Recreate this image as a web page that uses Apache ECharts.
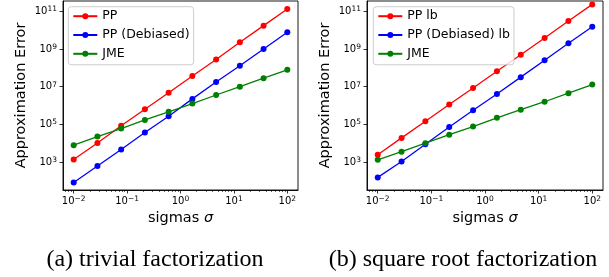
<!DOCTYPE html>
<html>
<head>
<meta charset="utf-8">
<script src="https://cdn.jsdelivr.net/npm/echarts@6/dist/echarts.min.js"></script>
<style>
  html, body { margin: 0; padding: 0; background: #fff; }
  #chart { width: 609px; height: 277px; }
</style>
</head>
<body>
<div id="chart"></div>
<script>
// sigma values (logspace -2..2, 10 points)
const sigmas = [0.01, 0.02783, 0.07743, 0.2154, 0.5995, 1.668, 4.642, 12.92, 35.94, 100];

// (a) trivial factorization
const ppA = [1.35e3, 1.02e4, 8.3e4, 6.3e5, 4.7e6, 3.7e7, 2.8e8, 2.3e9, 1.74e10, 1.32e11];
const ppDebA = [81, 603, 4.57e3, 3.63e4, 2.69e5, 2.24e6, 1.78e7, 1.29e8, 1.0e9, 7.8e9];
const jmeA = [7.8e3, 2.24e4, 5.9e4, 1.7e5, 4.6e5, 1.26e6, 3.6e6, 1.0e7, 2.8e7, 7.8e7];

// (b) square root factorization
const ppB = [2.4e3, 1.9e4, 1.45e5, 1.12e6, 8.5e6, 6.6e7, 5.0e8, 3.8e9, 3.1e10, 2.34e11];
const ppDebB = [151, 1.05e3, 8.7e3, 7.2e4, 5.6e5, 4.1e6, 3.2e7, 2.5e8, 2.0e9, 1.51e10];
const jmeB = [1.29e3, 3.5e3, 1.0e4, 2.8e4, 7.6e4, 2.2e5, 6.0e5, 1.58e6, 4.5e6, 1.29e7];

// tick exponents
const xTickExps = [-2, -1, 0, 1, 2];
const yTickExps = [3, 5, 7, 9, 11];

const namesA = ["PP", "PP (Debiased)", "JME"];
const namesB = ["PP lb", "PP (Debiased) lb", "JME"];
const captions = ["(a) trivial factorization", "(b) square root factorization"];

const colors = ["#ff0000", "#0000ff", "#008000"];
const X_MIN = -2.2, X_MAX = 2.2;
const Y_MIN = 1.51, Y_MAX = 11.55;
const FONT = "DejaVu Sans";

// log-spaced minor tick positions (2..9 x 10^d) inside the x range
const xMinor = [];
for (let d = -3; d <= 2; d++) {
    for (let k = 2; k <= 9; k++) {
        const e = Math.log10(k * Math.pow(10, d));
        if (e > X_MIN && e < X_MAX) xMinor.push(e);
    }
}

function powLabel(v) {
    const s = String(v).replace("-", "\u2212");
    return "{b|10}{s|" + s + "}";
}
const powRich = {
    b: { fontSize: 10, fontFamily: FONT, color: "#000", lineHeight: 12 },
    s: { fontSize: 7.5, fontFamily: FONT, color: "#000", lineHeight: 7.5, verticalAlign: "top" },
};

function toXY(ys) {
    return sigmas.map((s, i) => [Math.log10(s), Math.log10(ys[i])]);
}

const grids = [
    { left: 63, top: 1, width: 235, height: 189 },
    { left: 367, top: 1, width: 236, height: 189 },
];

const xAxes = [];
const yAxes = [];
grids.forEach((g, gi) => {
    // major x axis
    xAxes.push({
        type: "value", gridIndex: gi, min: X_MIN, max: X_MAX,
        name: "{n|sigmas }{i|\u03c3}", nameLocation: "middle", nameGap: 21,
        nameTextStyle: {
            rich: {
                n: { fontSize: 14.5, fontFamily: FONT, color: "#000" },
                i: { fontSize: 14.5, fontFamily: FONT, fontStyle: "italic", color: "#000" },
            },
        },
        axisLine: { show: true, onZero: false, lineStyle: { color: "#000", width: 0.9 } },
        axisTick: { show: true, customValues: xTickExps, length: 3.5, lineStyle: { color: "#000", width: 0.8 } },
        axisLabel: { customValues: xTickExps, formatter: powLabel, rich: powRich, margin: 5 },
        splitLine: { show: false },
    });
    // minor x ticks
    xAxes.push({
        type: "value", gridIndex: gi, min: X_MIN, max: X_MAX, position: "bottom",
        axisLine: { show: false },
        axisTick: { show: true, customValues: xMinor, length: 2, lineStyle: { color: "#000", width: 0.6 } },
        axisLabel: { show: false },
        splitLine: { show: false },
    });
    yAxes.push({
        type: "value", gridIndex: gi, min: Y_MIN, max: Y_MAX,
        name: "Approximation Error", nameLocation: "middle", nameGap: 34,
        nameTextStyle: { fontSize: 14.5, fontFamily: FONT, color: "#000" },
        axisLine: { show: true, onZero: false, lineStyle: { color: "#000", width: 0.9 } },
        axisTick: { show: true, customValues: yTickExps, length: 3.5, lineStyle: { color: "#000", width: 0.8 } },
        axisLabel: { customValues: yTickExps, formatter: powLabel, rich: powRich, margin: 6 },
        splitLine: { show: false },
    });
});

function makeSeries(name, ys, ci, gi) {
    return {
        name: name, type: "line", data: toXY(ys),
        xAxisIndex: gi * 2, yAxisIndex: gi,
        symbol: "circle", symbolSize: 6, showSymbol: true,
        itemStyle: { color: colors[ci] },
        lineStyle: { color: colors[ci], width: 1.3 },
        emphasis: { disabled: true },
    };
}

const series = [
    makeSeries(namesA[0], ppA, 0, 0),
    makeSeries(namesA[1], ppDebA, 1, 0),
    makeSeries(namesA[2], jmeA, 2, 0),
    makeSeries(namesB[0], ppB, 0, 1),
    makeSeries(namesB[1], ppDebB, 1, 1),
    makeSeries(namesB[2], jmeB, 2, 1),
];

function makeLegend(names, left) {
    return {
        data: names, orient: "vertical", left: left, top: 6.7,
        itemWidth: 24, itemHeight: 7.5, itemGap: 5.8,
        padding: [3, 4, 4.5, 4],
        backgroundColor: "rgba(255,255,255,0.8)",
        borderColor: "#cccccc", borderWidth: 1, borderRadius: 3,
        textStyle: { fontSize: 12.5, fontFamily: FONT, color: "#000" },
        selectedMode: false,
    };
}

const chart = echarts.init(document.getElementById("chart"), null, { renderer: "canvas" });
chart.setOption({
    animation: false,
    grid: grids.map((g) => Object.assign({ show: true, borderColor: "#000", borderWidth: 0.9, containLabel: false }, g)),
    xAxis: xAxes,
    yAxis: yAxes,
    legend: [makeLegend(namesA, 68.3), makeLegend(namesB, 373.3)],
    series: series,
    graphic: [
        { type: "text", x: 155, y: 260, style: { text: captions[0], font: "24px 'Liberation Serif'", fill: "#000", textAlign: "center", textVerticalAlign: "middle" } },
        { type: "text", x: 463, y: 260, style: { text: captions[1], font: "24px 'Liberation Serif'", fill: "#000", textAlign: "center", textVerticalAlign: "middle" } },
    ],
});
</script>
</body>
</html>
